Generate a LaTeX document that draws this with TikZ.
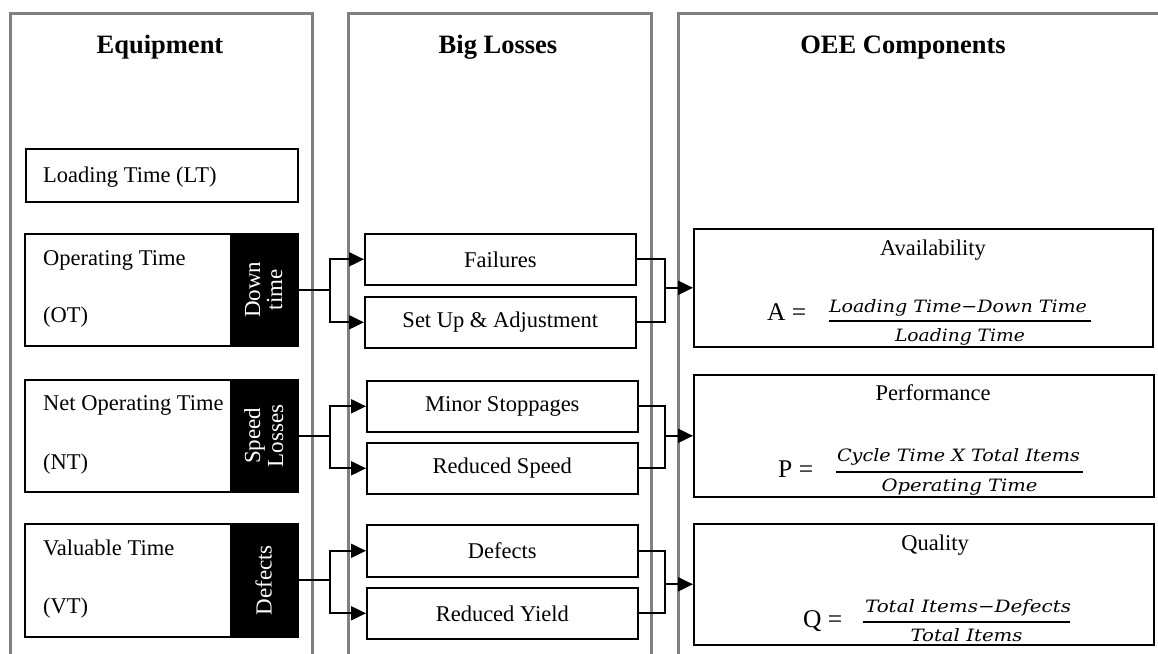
\documentclass[tikz,border=0pt]{standalone}
\usepackage{fontspec}
\setmainfont{Liberation Serif}
\newfontfamily\fracfont{DejaVu Serif}
\usetikzlibrary{arrows.meta}
\definecolor{colgray}{RGB}{128,128,128}
\newcommand{\fw}[2]{\resizebox{#1pt}{\height}{\fracfont\itshape #2}}
\begin{document}
\begin{tikzpicture}[x=1pt,y=-1pt,
  colline/.style={draw=colgray,line width=3pt},
  body/.style={font=\fontsize{22.5}{27}\selectfont,inner sep=0pt},
  eqs/.style={font=\fontsize{25.5}{30}\selectfont,inner sep=0pt,anchor=base west},
  head/.style={font=\fontsize{26.5}{30}\selectfont\bfseries,inner sep=0pt,anchor=base},
  ebox/.style={draw=black,line width=1.6pt,rectangle,inner sep=0pt,anchor=north west,fill=white},
  blk/.style={draw=black,fill=black,line width=1.6pt,rectangle,inner sep=0pt,anchor=north east,
     minimum width=65pt,text=white,font=\fontsize{22.5}{23}\selectfont},
  lbox/.style={ebox,minimum width=271pt,font=\fontsize{22.5}{27}\selectfont},
  obox/.style={ebox,minimum width=460pt},
  conn/.style={draw=black,line width=2pt},
  arr/.style={conn,-{Triangle[length=15pt,width=14pt]}},
  num/.style={inner sep=0pt,anchor=base,font=\fontsize{17}{20}\selectfont},
  fbar/.style={draw=black,line width=2.5pt}
]
\useasboundingbox (0,0) rectangle (1158,653);
\fill[white] (0,0) rectangle (1158,653);

% columns
\draw[colline] (10,660) -- (10,13) -- (312,13) -- (312,660);
\draw[colline] (348,660) -- (348,13) -- (651,13) -- (651,660);
\draw[colline] (678,660) -- (678,13) -- (1170,13);

% headers
\node[head] (h1) at (160,53) {Equipment};
\node[head] (h2) at (498,53) {Big Losses};
\node[head] (h3) at (903,53) {OEE Components};

% equipment boxes
\node[ebox,minimum width=272pt,minimum height=53pt] (lt) at (25,148) {};
\node[body,anchor=base west] (ltt) at (43,182) {Loading Time (LT)};

\node[ebox,minimum width=273pt,minimum height=112pt] (ot) at (24,233) {};
\node[body,anchor=base west] (ott1) at (43,265) {Operating Time};
\node[body,anchor=base west] (ott2) at (43,322) {(OT)};
\node[blk,minimum height=112pt] (dt) at (297,233) {};
\node[rotate=90,align=center,text=white,font=\fontsize{23}{22}\selectfont,inner sep=0pt] (dtt) at (dt.center) {Down\\time};

\node[ebox,minimum width=273pt,minimum height=112pt] (nt) at (24,379) {};
\node[body,anchor=base west] (ntt1) at (43,410) {Net Operating Time};
\node[body,anchor=base west] (ntt2) at (43,469) {(NT)};
\node[blk,minimum height=112pt] (sl) at (297,379) {};
\node[rotate=90,align=center,text=white,font=\fontsize{23}{23}\selectfont,inner sep=0pt] (slt) at (sl.center) {Speed\\Losses};

\node[ebox,minimum width=273pt,minimum height=113pt] (vt) at (24,523) {};
\node[body,anchor=base west] (vtt1) at (43,555) {Valuable Time};
\node[body,anchor=base west] (vtt2) at (43,613) {(VT)};
\node[blk,minimum height=113pt] (df) at (297,523) {};
\node[rotate=90,align=center,text=white,font=\fontsize{23}{23}\selectfont,inner sep=0pt] (dft) at (df.center) {Defects};

% big losses boxes
\node[lbox,minimum height=51pt] (fail) at (364,233) {Failures};
\node[lbox,minimum height=51pt] (setup) at (364,296) {Set Up \& Adjustment};
\node[lbox,minimum height=51pt] (minor) at (366,380) {Minor Stoppages};
\node[lbox,minimum height=51pt] (rspeed) at (366,442) {Reduced Speed};
\node[lbox,minimum height=52pt] (defe) at (366,524) {Defects};
\node[lbox,minimum height=51pt] (yield) at (366,587) {Reduced Yield};

% OEE boxes
\node[obox,minimum width=459pt,minimum height=118pt] (avail) at (693,228) {};
\node[obox,minimum height=122pt] (perf) at (693,374) {};
\node[obox,minimum height=121pt] (qual) at (693,523) {};

\node[body,anchor=base] (availt) at (933,255) {Availability};
\node[body,anchor=base] (perft) at (933,400) {Performance};
\node[body,anchor=base] (qualt) at (935,550) {Quality};

% formulas
\node[eqs] (aeq) at (767,320) {A =};
\node[num] (anum) at (958,312) {\fw{258}{Loading Time−Down Time}};
\draw[fbar] (829,321) -- (1091,321);
\node[num] (aden) at (960,341) {\fw{130}{Loading Time}};

\node[eqs] (peq) at (778,477) {P =};
\node[num] (pnum) at (958.5,461) {\fw{243}{Cycle Time X Total Items}};
\draw[fbar] (836,472) -- (1083,472);
\node[num] (pden) at (959.5,491) {\fw{156}{Operating Time}};

\node[eqs] (qeq) at (803,627) {Q =};
\node[num] (qnum) at (968,612) {\fw{206}{Total Items−Defects}};
\draw[fbar] (863,622) -- (1070,622);
\node[num] (qden) at (966.5,641) {\fw{112}{Total Items}};

% left connectors
\draw[conn] (dt.east) -- ++(33,0) coordinate (l1);
\draw[arr] (l1) |- (fail.west);
\draw[arr] (l1) |- (setup.west);
\draw[conn] (sl.east) -- ++(33,0) coordinate (l2);
\draw[arr] (l2) |- (minor.west);
\draw[arr] (l2) |- (rspeed.west);
\draw[conn] (df.east) -- ++(33,0) coordinate (l3);
\draw[arr] (l3) |- (defe.west);
\draw[arr] (l3) |- (yield.west);

% right connectors
\path (fail.east) ++(28,0) coordinate (rx1);
\coordinate (r1) at (rx1 |- avail.west);
\draw[conn] (fail.east) -| (r1);
\draw[conn] (setup.east) -| (r1);
\draw[arr] (r1) -- (avail.west);

\path (minor.east) ++(26,0) coordinate (rx2);
\coordinate (r2) at (rx2 |- perf.west);
\draw[conn] (minor.east) -| (r2);
\draw[conn] (rspeed.east) -| (r2);
\draw[arr] (r2) -- (perf.west);

\path (defe.east) ++(26,0) coordinate (rx3);
\coordinate (r3) at (rx3 |- qual.west);
\draw[conn] (defe.east) -| (r3);
\draw[conn] (yield.east) -| (r3);
\draw[arr] (r3) -- (qual.west);
\end{tikzpicture}
\end{document}
